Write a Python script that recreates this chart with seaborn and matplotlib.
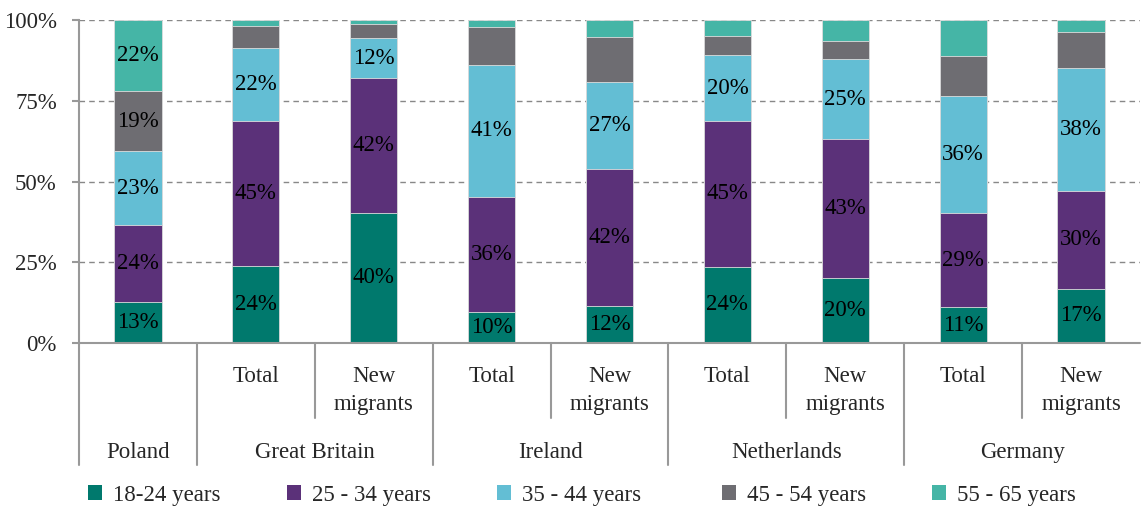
import matplotlib
matplotlib.use("Agg")
import matplotlib.pyplot as plt
from matplotlib.lines import Line2D
from matplotlib.patches import Patch
import matplotlib.transforms as mtransforms
import seaborn as sns
import pandas as pd
import numpy as np

# ---------------- data ----------------
bars = ["Poland", "GB Total", "GB New", "IE Total", "IE New",
        "NL Total", "NL New", "DE Total", "DE New"]
sub_labels = ["", "Total", "New\nmigrants", "Total", "New\nmigrants",
              "Total", "New\nmigrants", "Total", "New\nmigrants"]
groups = ["Poland", "Great Britain", "Ireland", "Netherlands", "Germany"]
group_spans = [(0, 0), (1, 2), (3, 4), (5, 6), (7, 8)]

series = ["18-24 years", "25 - 34 years", "35 - 44 years", "45 - 54 years", "55 - 65 years"]
age_18_24 = [12.7, 23.8, 40.3, 9.6, 11.6, 23.6, 20.0, 11.1, 16.8]
age_25_34 = [23.8, 45.0, 41.6, 35.7, 42.2, 45.1, 43.2, 29.1, 30.3]
age_35_44 = [22.9, 22.4, 12.4, 40.7, 27.1, 20.4, 24.6, 36.4, 38.0]
age_45_54 = [18.6, 7.0, 4.5, 11.7, 13.9, 6.1, 5.7, 12.4, 11.1]
age_55_65 = [22.0, 1.8, 1.2, 2.3, 5.2, 4.8, 6.5, 11.0, 3.8]
values = [age_18_24, age_25_34, age_35_44, age_45_54, age_55_65]

colors = ["#00796D", "#5B3179", "#63BED4", "#6E6D72", "#45B5A6"]

# ---------------- figure ----------------
sns.set_theme(style="white")
FONT = ["Liberation Serif", "DejaVu Serif"]
plt.rcParams["font.family"] = FONT
FS = 16.5

fig = plt.figure(figsize=(11.43, 5.07), dpi=100)
ax = fig.add_axes([79 / 1143, 1 - 343 / 507, (1140 - 79) / 1143, 323 / 507])

df = pd.DataFrame({"bar": bars})
cum = np.cumsum(np.array(values), axis=0)
for i in range(len(series) - 1, -1, -1):
    df["h"] = cum[i]
    sns.barplot(data=df, x="bar", y="h", order=bars, color=colors[i],
                width=0.4, edgecolor="#dddddd", linewidth=0.6,
                saturation=1, ax=ax, zorder=3)

# labels
for i in range(len(series)):
    for j in range(len(bars)):
        v = values[i][j]
        if i < 3 or v >= 15:
            yc = cum[i][j] - v / 2
            ax.text(j, yc, f"{round(v):d}%", ha="center", va="center",
                    fontsize=FS, color="black", zorder=5)

ax.set_xlim(-0.5, len(bars) - 0.5)
ax.set_ylim(0, 100)
ax.set_yticks([0, 25, 50, 75, 100])
ax.set_yticklabels(["0%", "25%", "50%", "75%", "100%"], fontsize=FS)
ax.set_xticks([])
ax.set_xlabel("")
ax.set_ylabel("")
for y in [25, 50, 75, 100]:
    ax.axhline(y, color="#888888", linestyle=(0, (4, 3)), linewidth=1.0, zorder=1)
ax.axhline(0, color="#999999", linewidth=1.5, zorder=4, clip_on=False)

for s in ["top", "right", "bottom"]:
    ax.spines[s].set_visible(False)
ax.spines["left"].set_color("#999999")
ax.spines["left"].set_linewidth(1.5)
ax.tick_params(axis="y", length=5, width=1.5, color="#999999", pad=11, left=True)

# multi-level category axis
trans = mtransforms.blended_transform_factory(ax.transData, ax.transAxes)
for j, lab in enumerate(sub_labels):
    if lab:
        ax.text(j, -0.07, lab, transform=trans, ha="center", va="top",
                fontsize=FS, linespacing=1.45)
for (a, b), g in zip(group_spans, groups):
    ax.text((a + b) / 2, -0.34, g, transform=trans, ha="center", va="center",
            fontsize=FS)

# separators
line_kw = dict(color="#999999", linewidth=1.5, clip_on=False, transform=trans)
ax.add_line(Line2D([-0.5, -0.5], [0, -0.378], **line_kw))
for k in range(1, len(bars)):
    x = k - 0.5
    is_group = any(a == k for a, b in group_spans)
    bottom = -0.378 if is_group else -0.232
    ax.add_line(Line2D([x, x], [0, bottom], **line_kw))

# legend (one entry per position)
leg_x = [88, 287, 497, 722, 932]
for c, s, x in zip(colors, series, leg_x):
    lg = fig.legend([Patch(facecolor=c, edgecolor="none")], [s], loc="center left",
                    bbox_to_anchor=(x / 1143, 1 - 495 / 507), frameon=False,
                    fontsize=FS, handlelength=0.6, handleheight=0.6,
                    handletextpad=0.5, borderpad=0, borderaxespad=0)

fig.savefig("out.png", dpi=100)
